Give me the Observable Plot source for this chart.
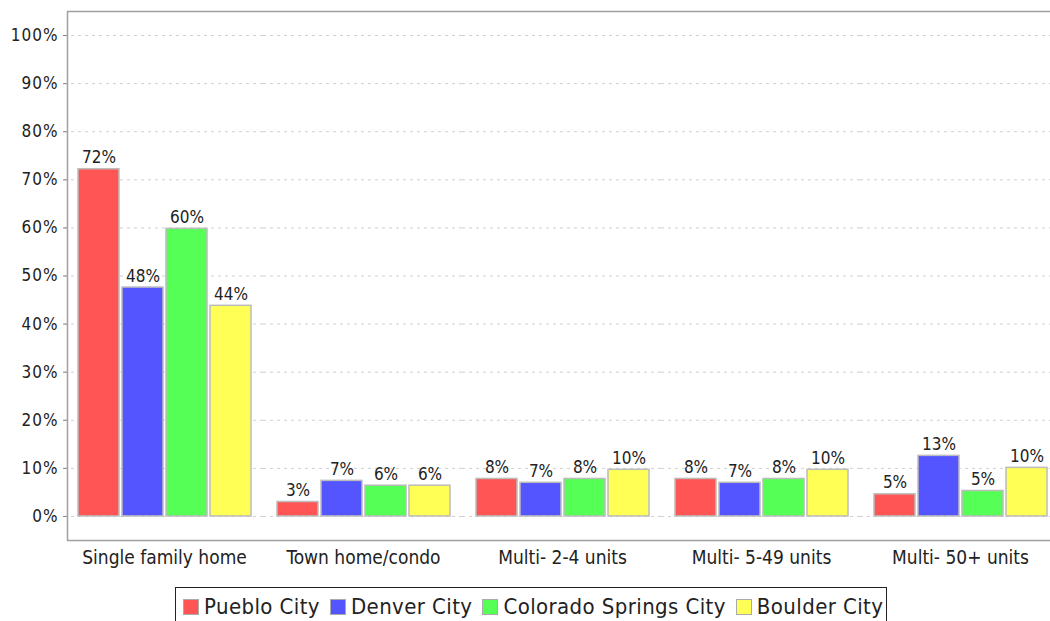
<!DOCTYPE html>
<html>
<head>
<meta charset="utf-8">
<script src="https://cdn.jsdelivr.net/npm/d3@7"></script>
<script src="https://cdn.jsdelivr.net/npm/@observablehq/plot@0.6"></script>
<style>
  html, body { margin: 0; padding: 0; background: #fff; }
  body { width: 1050px; height: 621px; overflow: hidden; position: relative;
         font-family: "DejaVu Sans Condensed", "DejaVu Sans", sans-serif; font-stretch: condensed; }
  #chart { position: absolute; left: 0; top: 0; }
  #chart g[aria-label="y-axis tick label"] text { letter-spacing: 1px; }
  #legend { position: absolute; left: 175px; top: 587px; height: 44px; box-sizing: border-box;
            border: 1px solid #222; display: flex; align-items: flex-start;
            padding: 8px 3px 0 7px; background: #fff; }
  .item { display: flex; align-items: center; height: 22px; margin-right: 10px; }
  .item:last-child { margin-right: 0; }
  .sw { width: 16px; height: 16px; box-sizing: border-box; border: 1px solid #aaa; margin-right: 5px; }
  .lbl { font-size: 22px; line-height: 22px; color: #222; white-space: nowrap; letter-spacing: 0.4px; }
</style>
</head>
<body>
<div id="chart"></div>
<div id="legend"></div>
<script>
// ---- data ----
const categories = ["Single family home", "Town home/condo", "Multi- 2-4 units", "Multi- 5-49 units", "Multi- 50+ units"];
const cities = ["Pueblo City", "Denver City", "Colorado Springs City", "Boulder City"];
const colors = ["#ff5555", "#5555ff", "#55ff55", "#ffff55"];
const pueblo = [72.2, 3.0, 7.8, 7.8, 4.6];
const denver = [47.6, 7.4, 7.0, 7.0, 12.6];
const coloradoSprings = [59.8, 6.4, 7.8, 7.8, 5.3];
const boulder = [43.8, 6.4, 9.7, 9.7, 10.1];
const yTicks = [0, 10, 20, 30, 40, 50, 60, 70, 80, 90, 100];

const series = [pueblo, denver, coloradoSprings, boulder];
const rows = [];
categories.forEach((c, i) => {
  cities.forEach((city, j) => rows.push({category: c, city, value: series[j][i]}));
});

const font = '"DejaVu Sans Condensed", "DejaVu Sans", sans-serif';

const chart = Plot.plot({
  width: 1050,
  height: 580,
  marginTop: 11,
  marginBottom: 40,
  marginLeft: 66,
  marginRight: -8,
  style: {fontFamily: font, background: "#fff", color: "#333", overflow: "hidden"},
  fx: {domain: categories, paddingInner: 0.0276, paddingOuter: 0, label: null, axis: null},
  x: {domain: cities, paddingInner: 0.07, paddingOuter: 0.23, axis: null},
  y: {domain: [-5, 105], axis: null},
  color: {domain: cities, range: colors},
  marks: [
    Plot.ruleY(yTicks, {stroke: "#cfcfcf", strokeWidth: 1, strokeDasharray: "3,4", insetLeft: -3, insetRight: -3}),
    Plot.barY(rows, {fx: "category", x: "city", y: "value", fill: "city", stroke: "#bcbcbc", strokeWidth: 1.5}),
    Plot.text(rows, {fx: "category", x: "city", y: "value", text: d => Math.round(d.value) + "%",
                     dy: -6, lineAnchor: "bottom", fontSize: 17, fill: "#222"}),
    Plot.axisY({ticks: yTicks, tickSize: 4, tickPadding: 5, tickFormat: d => d + "%",
                fontSize: 17, label: null, stroke: "#888", fill: "#222"}),
    Plot.axisFx({anchor: "bottom", tickSize: 0, tickPadding: 10, fontSize: 19, label: null, fill: "#222"}),
    Plot.frame({facet: "super", stroke: "#a0a0a0", strokeWidth: 1.5})
  ]
});
document.getElementById("chart").appendChild(chart);

// legend
const legend = d3.select("#legend");
cities.forEach((city, j) => {
  const it = legend.append("div").attr("class", "item");
  it.append("div").attr("class", "sw").style("background", colors[j]);
  it.append("span").attr("class", "lbl").text(city);
});
</script>
</body>
</html>
